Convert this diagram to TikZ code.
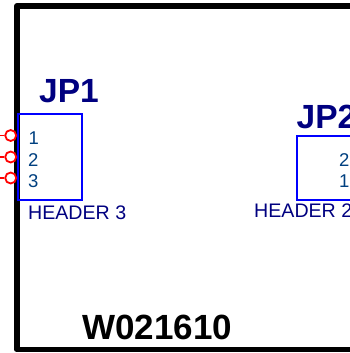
\documentclass[tikz,border=0pt]{standalone}
\usepackage{fontspec}
\setmainfont{Liberation Sans}
\definecolor{refnavy}{HTML}{000080}
\definecolor{pinnum}{HTML}{004080}
\newcommand{\fs}[1]{\fontsize{#1}{#1}\selectfont}
\tikzset{
 x=1pt,y=-1pt,
 frameline/.style={draw=black,line width=5.8pt,line join=round},
 hdrbox/.style={draw=blue,line width=2pt},
 pinring/.style={draw=red,line width=1.8pt,fill=white},
 pinstub/.style={draw=red,line width=1.8pt},
 reflabel/.style={font=\fs{33.5}\bfseries,text=refnavy,inner sep=0pt,anchor=base west},
 pinlabel/.style={font=\fs{18.5},text=pinnum,inner sep=0pt,anchor=base west},
 typelabel/.style={font=\fs{19.6},text=refnavy,inner sep=0pt,anchor=base west},
 titlelabel/.style={font=\fs{35}\bfseries,text=black,inner sep=0pt,anchor=base west},
}
\begin{document}
\begin{tikzpicture}
\useasboundingbox (0,0) rectangle (350,353);
\clip (0,0) rectangle (350,353);
\fill[white] (0,0) rectangle (350,353);
\coordinate (ftr) at (360,6);
\coordinate (ftl) at (17,6);
\coordinate (fbl) at (17,349.5);
\coordinate (fbr) at (360,349.5);
\draw[frameline] (ftr) -- (ftl) -- (fbl) -- (fbr);
\draw[hdrbox] (18,114) rectangle (81.5,200);
\draw[hdrbox] (297,135.5) rectangle (370,200);
\foreach \n/\y in {a/135.5,b/157,c/178}{
  \coordinate (s\n) at (0,\y);
  \node[pinring,circle,minimum size=11pt,inner sep=0pt] (p\n) at (10.7,\y) {};
  \draw[pinstub] (s\n) -- (p\n);
}
\node[reflabel] (jp1) at (39,102) {JP1};
\node[reflabel] (jp2) at (296.5,128) {JP2};
\node[pinlabel] (n1) at (28.5,144) {1};
\node[pinlabel] (n2) at (28,166) {2};
\node[pinlabel] (n3) at (28,187) {3};
\node[pinlabel] (m2) at (339,166) {2};
\node[pinlabel] (m1) at (339,187) {1};
\node[typelabel] (h3) at (28,219) {HEADER 3};
\node[typelabel] (h2) at (254,217) {HEADER 2};
\node[titlelabel] (t) at (82,339) {W021610};
\end{tikzpicture}
\end{document}
